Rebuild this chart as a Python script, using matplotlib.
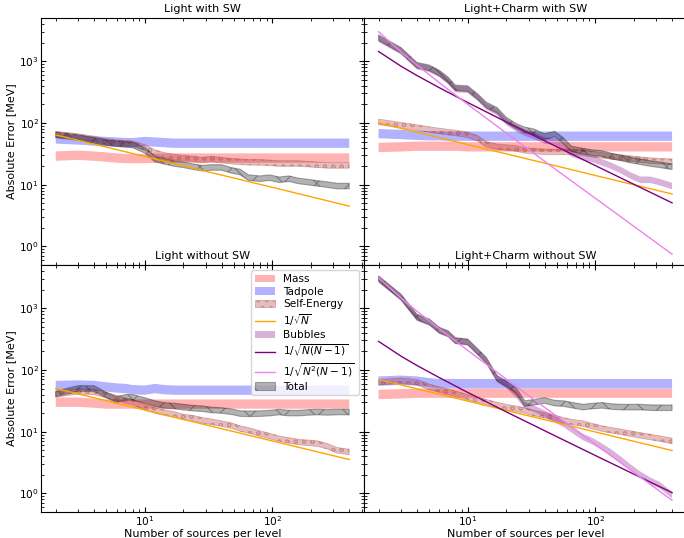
import matplotlib
matplotlib.use("Agg")
import numpy as np
import matplotlib.pyplot as plt

plt.rcParams['font.size'] = 8
plt.rcParams['hatch.linewidth'] = 0.8

# number of sources per level (sample points)
N = [2, 3, 4, 5, 6, 7, 8, 10, 12, 14, 17, 20, 24, 28, 33, 40, 48, 56, 65,
     80, 95, 113, 135, 160, 190, 226, 270, 320, 400]

# Light with SW
mass_lw = [29, 30, 29, 28, 27, 26.5, 26.5, 26.5, 27, 27, 27, 27, 27, 27, 27,
           27, 27, 27, 27, 27, 27, 27, 27, 27, 27, 27, 27, 27, 27]
tad_lw = [55, 53, 51, 50, 49, 48, 48, 50, 49, 48, 47, 47, 47, 47, 47,
          47, 47, 47, 47, 47, 47, 47, 47, 47, 47, 47, 47, 47, 47]
se_lw = [66, 60, 55, 50, 48, 47, 46, 40, 33, 30, 28, 27, 26, 25, 26,
         25, 24, 23.5, 23, 23, 22.5, 22, 22, 22, 21.5, 21, 20.5, 20.5, 20.5]
tot_lw = [64, 58, 52, 48, 46, 45, 44, 36, 26, 24, 22, 21, 19.5, 18.5, 19,
          19, 17, 16, 13, 12.5, 13, 12, 12.5, 11.5, 11, 10.5, 10, 9.5, 9.5]

# Light+Charm with SW
mass_cw = [40, 41, 42, 42, 42, 42, 42, 41, 41, 41, 41, 41, 41, 41, 41,
           41, 41, 41, 41, 41, 41, 41, 41, 41, 41, 41, 41, 41, 41]
tad_cw = [67, 65, 63, 62, 62, 61, 61, 61, 61, 61, 61, 61, 61, 61, 61,
          61, 61, 61, 61, 61, 61, 61, 61, 61, 61, 61, 61, 61, 61]
se_cw = [104, 92, 84, 78, 74, 71, 69, 64, 56, 45, 41, 40, 38.5, 36, 35,
         34, 34, 34, 34, 33, 31, 30, 28.5, 27.5, 26.5, 25.5, 24.5, 24, 23.5]
bub_cw = [2300, 1450, 830, 750, 620, 480, 355, 345, 255, 185, 150, 105, 82,
          70, 62, 52, 50, 42, 32, 28, 26, 23, 20, 17, 14, 12, 12, 11, 9.5]
tot_cw = [2400, 1500, 860, 780, 640, 500, 370, 360, 265, 195, 160, 112, 88,
          77, 72, 60, 66, 52, 38, 35, 33, 32, 29, 27, 25, 23.5, 22, 21, 19.5]

# Light without SW
mass_lwo = [30, 30, 29, 28, 28, 28, 28, 28, 28, 28, 28, 28, 28, 28, 28,
            28, 28, 28, 28, 28, 28, 28, 28, 28, 28, 28, 28, 28, 28]
tad_lwo = [56, 57, 56, 53, 51, 50, 48, 47, 50, 48, 47, 47, 47, 47, 47,
           47, 47, 47, 47, 47, 47, 47, 47, 47, 47, 47, 47, 47, 47]
se_lwo = [40, 45, 44, 39, 35, 32, 30, 25, 22, 20.5, 19, 17.3, 16.5, 15.3,
          14.5, 13.5, 12.5, 11.2, 10.5, 9.3, 8.5, 7.7, 7.2, 6.8, 6.6, 6.4,
          5.8, 5.0, 4.7]
tot_lwo = [41, 50, 50, 39, 33, 36, 36, 32, 28.5, 26.7, 26, 25, 24, 23.6,
           22.5, 22, 21, 19.6, 19.5, 19.6, 20, 20.8, 20, 20, 20.5, 20.8, 20.5,
           20.8, 20.8]

# Light+Charm without SW
mass_cwo = [40, 41, 42, 42, 42, 42, 42, 42, 42, 42, 42, 42, 42, 42, 42,
            42, 42, 42, 42, 42, 42, 42, 42, 42, 42, 42, 42, 42, 42]
tad_cwo = [66, 68, 66, 62, 60, 60, 60, 60, 60, 60, 60, 60, 60, 60, 60,
           60, 60, 60, 60, 60, 60, 60, 60, 60, 60, 60, 60, 60, 60]
se_cwo = [63, 67, 63, 53, 48, 44, 41, 36, 33, 30, 27, 25, 23.5, 22, 20,
          18.4, 16.8, 15.3, 14.3, 13.5, 12.3, 11.2, 10.5, 9.9, 9.3, 8.7, 8.2,
          7.7, 7.1]
bub_cwo = [2950, 1490, 700, 590, 430, 380, 295, 280, 193, 140, 72, 58, 40,
           26.7, 23.6, 19.6, 16, 13.5, 11, 8.2, 7, 5.7, 4.5, 3.45, 2.6, 2.0,
           1.6, 1.36, 0.94]
tot_cwo = [3000, 1520, 720, 600, 440, 390, 300, 285, 197, 144, 73, 60, 46,
           28.5, 30, 32, 29, 28.5, 27, 25, 26, 26.7, 25.5, 25, 25, 25, 24.5,
           24.4, 24.4]

# relative half-width of each band
mass_err, tad_err, se_err, bub_err, tot_err = 0.19, 0.19, 0.11, 0.13, 0.11

# reference scaling curves, read at a few N
N_line = [2, 3, 4, 6, 10, 20, 50, 100, 400]
sqrt_lw = [64, 52.3, 45.3, 37.0, 28.6, 20.2, 12.8, 9.05, 4.5]
sqrt_cw = [100, 81.6, 70.7, 57.7, 44.7, 31.6, 20.0, 14.1, 7.07]
sqrt_lwo = [50, 40.8, 35.4, 28.9, 22.4, 15.8, 10.0, 7.07, 3.54]
sqrt_cwo = [70, 57.2, 49.5, 40.4, 31.3, 22.1, 14.0, 9.9, 4.95]
lin_cw = [1435, 829, 586, 371, 214, 104, 41, 20.4, 5.08]
lin_cwo = [290, 167, 118, 74.9, 43.2, 21.0, 8.28, 4.12, 1.03]
cub_cw = [3000, 1414, 866, 447, 200, 68.8, 17.1, 6.03, 0.75]
cub_cwo = [3100, 1461, 895, 462, 207, 71.1, 17.7, 6.23, 0.776]


def band(ax, y, err, label, **kw):
    y = np.asarray(y, dtype=float)
    return ax.fill_between(N, y / (1 + err), y * (1 + err), label=label, **kw)


def plot_panel(ax, title, mass, tad, se, tot, sq, bub=None, lin=None, cub=None):
    band(ax, mass, mass_err, 'Mass', facecolor='red', alpha=0.3, lw=0)
    band(ax, tad, tad_err, 'Tadpole', facecolor='blue', alpha=0.3, lw=0)
    band(ax, se, se_err, 'Self-Energy', facecolor='brown', edgecolor='brown',
         alpha=0.3, hatch='oo', lw=0.6)
    ax.plot(N_line, sq, color='orange', lw=1, label=r'$1/\sqrt{N}$')
    if bub is not None:
        band(ax, bub, bub_err, 'Bubbles', facecolor='purple', alpha=0.3, lw=0)
        ax.plot(N_line, lin, color='purple', lw=1, label=r'$1/\sqrt{N(N-1)}$')
        ax.plot(N_line, cub, color='violet', lw=1, label=r'$1/\sqrt{N^2(N-1)}$')
    band(ax, tot, tot_err, 'Total', facecolor='black', edgecolor='black',
         alpha=0.3, hatch='x', lw=0.8)
    ax.set_xscale('log')
    ax.set_yscale('log')
    ax.set_title(title, fontsize=8, pad=4)
    ax.tick_params(which='both', direction='in', top=True, right=True,
                   pad=1.5, labelsize=7.6)


fig, axes = plt.subplots(2, 2, figsize=(6.84, 5.38), dpi=100,
                         sharex=True, sharey=True)
fig.subplots_adjust(left=0.06, right=1.004, top=0.9665, bottom=0.0483,
                    hspace=0, wspace=0)

plot_panel(axes[0, 0], 'Light with SW', mass_lw, tad_lw, se_lw, tot_lw, sqrt_lw)
plot_panel(axes[0, 1], 'Light+Charm with SW', mass_cw, tad_cw, se_cw, tot_cw,
           sqrt_cw, bub_cw, lin_cw, cub_cw)
plot_panel(axes[1, 0], 'Light without SW', mass_lwo, tad_lwo, se_lwo, tot_lwo,
           sqrt_lwo)
plot_panel(axes[1, 1], 'Light+Charm without SW', mass_cwo, tad_cwo, se_cwo,
           tot_cwo, sqrt_cwo, bub_cwo, lin_cwo, cub_cwo)

axes[0, 0].set_ylim(0.5, 5000)
for ax in axes[:, 1]:
    ax.tick_params(which='both', right=False)
for ax in axes[:, 0]:
    ax.set_ylabel('Absolute Error [MeV]', labelpad=2)
for ax in axes[1, :]:
    ax.set_xlabel('Number of sources per level', labelpad=0.5)

handles, labels = axes[1, 1].get_legend_handles_labels()
axes[1, 0].legend(handles, labels, loc='upper right', fontsize=7.6,
                  labelspacing=0.25, handlelength=1.9, borderpad=0.35)

fig.savefig('out.png', dpi=100)
